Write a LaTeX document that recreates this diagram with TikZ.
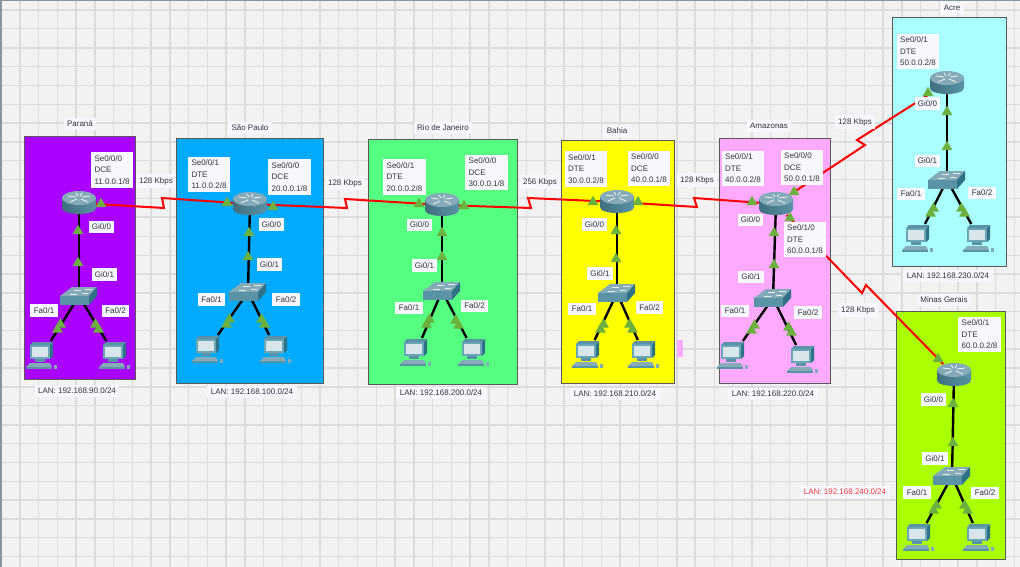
\documentclass[tikz,border=0pt]{standalone}
\usepackage{fontspec}
\setmainfont{Liberation Sans}
\usetikzlibrary{shapes.geometric}
\definecolor{canvas}{HTML}{F2F2F2}
\definecolor{gridline}{HTML}{DCDCDC}
\definecolor{edge}{HTML}{8A93A0}
\definecolor{parana}{HTML}{AA00FF}
\definecolor{saopaulo}{HTML}{00AAFF}
\definecolor{riodejaneiro}{HTML}{55FF7F}
\definecolor{bahia}{HTML}{FFFF00}
\definecolor{amazonas}{HTML}{FFAAFF}
\definecolor{acre}{HTML}{AAFFFF}
\definecolor{minasgerais}{HTML}{AAFF00}
\definecolor{tagfill}{HTML}{F7F8FE}
\definecolor{tagtext}{HTML}{303438}
\definecolor{portgreen}{HTML}{6CB040}
\definecolor{lanred}{HTML}{FF3838}
\definecolor{iconlight}{HTML}{E4F0F2}
\definecolor{icontop}{HTML}{86ABB8}
\definecolor{iconmid}{HTML}{5A93A6}
\definecolor{icondark}{HTML}{2F7288}
\definecolor{iconshade}{HTML}{3F6E7E}
\definecolor{screen}{HTML}{D8E6EC}
\definecolor{frame}{HTML}{6BA6B6}
\tikzset{
    sitebox/.style={draw=black!65, line width=1pt, inner sep=0pt, outer sep=0pt},
    tag/.style={fill=tagfill, text=tagtext, inner sep=3.4pt, align=left,
        font=\fontsize{8}{11.6}\selectfont},
    port/.style={fill=portgreen, regular polygon, regular polygon sides=3,
        minimum size=12.5pt, inner sep=0pt},
    hub/.style={inner sep=0pt, outer sep=0pt},
    lanlink/.style={black, line width=2.4pt},
    wanlink/.style={red, line width=2pt, line join=miter},
    router/.pic={
        \path[left color=iconshade, middle color=iconlight, right color=iconmid]
            (-17,-5) -- (-17,5) .. controls (-17,13) and (17,13) .. (17,5) -- (17,-5) -- cycle;
        \fill[icontop] (0,-5) circle[x radius=17, y radius=7];
        \draw[white, line width=.7pt] (-11,-7) -- (-3,-6) (11,-7) -- (3,-6)
            (-9,-1) -- (-2,-4) (9,-1) -- (2,-4) (-3,-10) -- (-1,-7) (3,-10) -- (1,-7);
    },
    lanswitch/.pic={
        \fill[icontop] (-19,0) -- (-7,-9) -- (18,-9) -- (10,0) -- cycle;
        \fill[iconmid] (-19,0) rectangle (10,9);
        \fill[icondark] (10,0) -- (18,-9) -- (18,0) -- (10,9) -- cycle;
        \draw[iconlight, line width=.5pt] (-9,-2) -- (-2,-2) (-5,-6) -- (2,-6) (3,-3) -- (9,-3) (6,-7) -- (13,-7);
    },
    pc/.pic={
        \fill[frame] (-12,-10) rectangle (8,4);
        \fill[icondark] (8,-10) -- (11,-13) -- (11,1) -- (8,4) -- cycle;
        \fill[iconmid] (-12,-10) -- (-9,-13) -- (11,-13) -- (8,-10) -- cycle;
        \fill[screen] (-10,-8) rectangle (6,2);
        \fill[iconmid] (-7,4) rectangle (3,7);
        \fill[icontop] (-12,8) -- (8,8) -- (10,12) -- (-16,12) -- cycle;
        \fill[iconmid] (-16,12) rectangle (10,14);
        \fill[icontop] (12,10) rectangle (15,14);
    }
}
% router, switch, two hosts, their links and the four port marks
\newcommand{\lansite}[9]{
    \node[hub, minimum width=34pt, minimum height=22pt] (#1-router) at (#2) {};
    \node[hub, minimum width=37pt, minimum height=18pt] (#1-switch) at (#3) {};
    \node[hub, minimum size=28pt] (#1-pc1) at (#4) {};
    \node[hub, minimum size=28pt] (#1-pc2) at (#5) {};
    \draw[lanlink] (#1-router.center) -- (#1-switch.center);
    \draw[lanlink] (#1-switch.center) -- (#1-pc1);
    \draw[lanlink] (#1-switch.center) -- (#1-pc2);
    \node[port] (#1-gi0) at (#6) {};
    \node[port] (#1-gi1) at (#7) {};
    \node[port, xshift=1.5pt, yshift=2.5pt] (#1-fa1a) at (#8) {};
    \node[port, xshift=-1.5pt, yshift=-2.5pt] (#1-fa1b) at (#8) {};
    \node[port, xshift=-1.5pt, yshift=2.5pt] (#1-fa2a) at (#9) {};
    \node[port, xshift=1.5pt, yshift=-2.5pt] (#1-fa2b) at (#9) {};
    \pic at (#1-router) {router};
    \pic at (#1-switch) {lanswitch};
    \pic at (#1-pc1) {pc};
    \pic at (#1-pc2) {pc};
}
\begin{document}
\begin{tikzpicture}[x=1pt, y=-1pt]
    \useasboundingbox (0,0) rectangle (1020,567);
    \fill[canvas] (0,0) rectangle (1020,567);
    \foreach \i in {0,...,53} {
        \pgfmathsetmacro\w{(mod(\i,4)==0 || mod(\i,4)==3) ? 1.8 : 1.1}
        \draw[gridline, line width=\w pt] ({20+18.76*\i},0) -- ({20+18.76*\i},567);
    }
    \foreach \j in {0,...,29} {
        \pgfmathsetmacro\w{(mod(\j,4)==2 || mod(\j,4)==3) ? 1.8 : 1.1}
        \draw[gridline, line width=\w pt] (0,{10+18.85*\j}) -- (1020,{10+18.85*\j});
    }
    \fill[edge] (0,0) rectangle (1.5,567);
    \fill[edge] (0,0) rectangle (1020,1);

    % site boxes
    \node[sitebox, fill=parana, minimum width=110.5pt, minimum height=242pt] (PR) at (79.75,258) {};
    \node[sitebox, fill=saopaulo, minimum width=147.5pt, minimum height=244pt] (SP) at (249.75,261) {};
    \node[sitebox, fill=riodejaneiro, minimum width=149pt, minimum height=244pt] (RJ) at (442.5,262) {};
    \node[sitebox, fill=bahia, minimum width=113pt, minimum height=242pt] (BA) at (617.5,262) {};
    \node[sitebox, fill=amazonas, minimum width=111pt, minimum height=244pt] (AM) at (774.5,261) {};
    \node[sitebox, fill=acre, minimum width=114pt, minimum height=248pt] (AC) at (949,142) {};
    \node[sitebox, fill=minasgerais, minimum width=109pt, minimum height=248pt] (MG) at (950.5,435) {};
    \node[hub, fill=amazonas, minimum width=6pt, minimum height=17pt] (stray) at (680,348) {};

    \lansite{PR}{79,203}{79,296}{42,355}{115,355}{78,231}{78,263}{59,327}{97,327}
    \lansite{SP}{250,204}{248,292}{208,349}{276,349}{249,233}{248,257}{228,322}{263,322}
    \lansite{RJ}{442,205}{442,291}{416,352}{474,352}{442,233}{442,257}{428,322}{457,323}
    \lansite{BA}{617,202}{617,293}{588,354}{644,354}{616,231}{616,259}{602,327}{631,327}
    \lansite{AM}{776,204}{773,298}{733,355}{803,359}{774,233}{774,265}{753,328}{790,330}
    \lansite{AC}{947,83}{947,180}{918,238}{979,238}{947,112}{947,147}{932,211}{963,211}
    \lansite{MG}{954,375}{952,476}{919,537}{979,537}{953,404}{953,443}{935,508}{966,508}

    % serial links
    \coordinate (zigPRa) at (164,208);
    \coordinate (zigPRb) at (162,198);
    \coordinate (zigSPa) at (347,208);
    \coordinate (zigSPb) at (345,199);
    \coordinate (zigRJa) at (531,208);
    \coordinate (zigRJb) at (528,198);
    \coordinate (zigBAa) at (697,207);
    \coordinate (zigBAb) at (694,198);
    \coordinate (zigACa) at (865,145);
    \coordinate (zigACb) at (857,140);
    \coordinate (zigMGa) at (862,293);
    \coordinate (zigMGb) at (866,285);
    \draw[wanlink] (PR-router) -- (zigPRa) -- (zigPRb) -- (SP-router);
    \draw[wanlink] (SP-router) -- (zigSPa) -- (zigSPb) -- (RJ-router);
    \draw[wanlink] (RJ-router) -- (zigRJa) -- (zigRJb) -- (BA-router);
    \draw[wanlink] (BA-router) -- (zigBAa) -- (zigBAb) -- (AM-router);
    \draw[wanlink] (AM-router) -- (zigACa) -- (zigACb) -- (AC-router);
    \draw[wanlink] (AM-router) -- (zigMGa) -- (zigMGb) -- (MG-router);

    \node[port] (PR-se0) at (101,204) {};
    \node[port] (SP-se1) at (227,203) {};
    \node[port] (SP-se0) at (273,207) {};
    \node[port] (RJ-se1) at (419,204) {};
    \node[port] (RJ-se0) at (464,206) {};
    \node[port] (BA-se1) at (593,202) {};
    \node[port] (BA-se0) at (638,202) {};
    \node[port] (AM-se1) at (752,202) {};
    \node[port] (AM-se0) at (794,192) {};
    \node[port] (AM-se2) at (790,218) {};
    \node[port] (AC-se1) at (928,93) {};
    \node[port] (MG-se1) at (938,359) {};

    % site names
    \node[tag] (PR-name) at (80,124) {Paraná};
    \node[tag] (SP-name) at (250,128) {São Paulo};
    \node[tag] (RJ-name) at (443,128) {Rio de Janeiro};
    \node[tag] (BA-name) at (617,131) {Bahia};
    \node[tag] (AM-name) at (769,126) {Amazonas};
    \node[tag] (AC-name) at (952,8) {Acre};
    \node[tag] (MG-name) at (944,300) {Minas Gerais};

    % LAN addresses
    \node[tag] (PR-lan) at (77,391) {LAN: 192.168.90.0/24};
    \node[tag] (SP-lan) at (252,392) {LAN: 192.168.100.0/24};
    \node[tag] (RJ-lan) at (441,393) {LAN: 192.168.200.0/24};
    \node[tag] (BA-lan) at (615,394) {LAN: 192.168.210.0/24};
    \node[tag] (AM-lan) at (773,394) {LAN: 192.168.220.0/24};
    \node[tag] (AC-lan) at (948,276) {LAN: 192.168.230.0/24};
    \node[tag, text=lanred] (MG-lan) at (845,492) {LAN: 192.168.240.0/24};

    % link speeds
    \node[tag] (speedPR) at (156,181) {128 Kbps};
    \node[tag] (speedSP) at (345,183) {128 Kbps};
    \node[tag] (speedRJ) at (540,182) {256 Kbps};
    \node[tag] (speedBA) at (697,180) {128 Kbps};
    \node[tag] (speedAC) at (855,122) {128 Kbps};
    \node[tag] (speedMG) at (858,310) {128 Kbps};

    % serial interfaces
    \node[tag] (PR-s0) at (112,170) {Se0/0/0\\DCE\\11.0.0.1/8};
    \node[tag] (SP-s1) at (209,174.5) {Se0/0/1\\DTE\\11.0.0.2/8};
    \node[tag] (SP-s0) at (289.5,177) {Se0/0/0\\DCE\\20.0.0.1/8};
    \node[tag] (RJ-s1) at (404.5,177) {Se0/0/1\\DTE\\20.0.0.2/8};
    \node[tag] (RJ-s0) at (486.5,172.5) {Se0/0/0\\DCE\\30.0.0.1/8};
    \node[tag] (BA-s1) at (586,169) {Se0/0/1\\DTE\\30.0.0.2/8};
    \node[tag] (BA-s0) at (649,168.5) {Se0/0/0\\DCE\\40.0.0.1/8};
    \node[tag] (AM-s1) at (743,168.5) {Se0/0/1\\DTE\\40.0.0.2/8};
    \node[tag] (AM-s0) at (802,167.5) {Se0/0/0\\DCE\\50.0.0.1/8};
    \node[tag] (AM-s2) at (805,239.5) {Se0/1/0\\DTE\\60.0.0.1/8};
    \node[tag] (AC-s1) at (918,51.5) {Se0/0/1\\DTE\\50.0.0.2/8};
    \node[tag] (MG-s1) at (979.5,334.5) {Se0/0/1\\DTE\\60.0.0.2/8};

    % LAN interfaces
    \node[tag] (PR-g0) at (101.5,227) {Gi0/0};
    \node[tag] (PR-g1) at (104.5,274.5) {Gi0/1};
    \node[tag] (PR-f1) at (44,310.5) {Fa0/1};
    \node[tag] (PR-f2) at (115.5,311) {Fa0/2};
    \node[tag] (SP-g0) at (271.5,224.5) {Gi0/0};
    \node[tag] (SP-g1) at (269.5,264.5) {Gi0/1};
    \node[tag] (SP-f1) at (211.5,299.5) {Fa0/1};
    \node[tag] (SP-f2) at (286,299.5) {Fa0/2};
    \node[tag] (RJ-g0) at (419.5,225) {Gi0/0};
    \node[tag] (RJ-g1) at (424.5,265.5) {Gi0/1};
    \node[tag] (RJ-f1) at (409,308) {Fa0/1};
    \node[tag] (RJ-f2) at (474.5,306) {Fa0/2};
    \node[tag] (BA-g0) at (594.5,224.5) {Gi0/0};
    \node[tag] (BA-g1) at (600,273.5) {Gi0/1};
    \node[tag] (BA-f1) at (582,309) {Fa0/1};
    \node[tag] (BA-f2) at (649.5,307.5) {Fa0/2};
    \node[tag] (AM-g0) at (750.5,220) {Gi0/0};
    \node[tag] (AM-g1) at (751,277) {Gi0/1};
    \node[tag] (AM-f1) at (735,311) {Fa0/1};
    \node[tag] (AM-f2) at (808,312.5) {Fa0/2};
    \node[tag] (AC-g0) at (927.5,103.5) {Gi0/0};
    \node[tag] (AC-g1) at (927.5,161) {Gi0/1};
    \node[tag] (AC-f1) at (911,194) {Fa0/1};
    \node[tag] (AC-f2) at (982,193) {Fa0/2};
    \node[tag] (MG-g0) at (933.5,399.5) {Gi0/0};
    \node[tag] (MG-g1) at (935,458.5) {Gi0/1};
    \node[tag] (MG-f1) at (917,492.5) {Fa0/1};
    \node[tag] (MG-f2) at (985,493) {Fa0/2};
\end{tikzpicture}
\end{document}
